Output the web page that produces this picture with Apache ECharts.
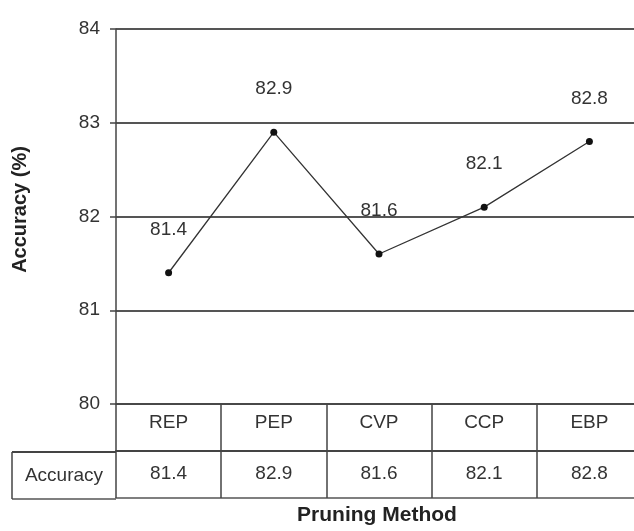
<!DOCTYPE html>
<html>
<head>
<meta charset="utf-8">
<script src="https://cdn.jsdelivr.net/npm/echarts@6/dist/echarts.min.js"></script>
<style>
html,body{margin:0;padding:0;background:#fff;overflow:hidden;width:634px;height:531px;}
#c{width:660px;height:531px;}
</style>
</head>
<body>
<div id="c"></div>
<script>
// ---- data ----
var categories = ['REP', 'PEP', 'CVP', 'CCP', 'EBP'];
var accuracy = [81.4, 82.9, 81.6, 82.1, 82.8];
var yTicks = [80, 81, 82, 83, 84];
var rowLabel = 'Accuracy';
var xTitle = 'Pruning Method';
var yTitle = 'Accuracy (%)';

// ---- layout ----
var H = 531;
var gridLeft = 116, gridTop = 29, gridBottomY = 405, gridWidth = 526;
var rowH = 47;
var tableLeft = 12;
var font = 'Liberation Sans, Arial, Helvetica, sans-serif';

var chart = echarts.init(document.getElementById('c'), null, {renderer: 'canvas'});

var valueLabels = accuracy.map(function (v) { return v.toFixed(1); });

chart.setOption({
  backgroundColor: '#fff',
  animation: false,
  textStyle: {fontFamily: font},
  grid: {left: gridLeft, top: gridTop, width: gridWidth, height: gridBottomY - gridTop, containLabel: false},
  xAxis: [
    {
      type: 'category', data: categories, position: 'bottom', boundaryGap: true,
      axisLine: {show: true, lineStyle: {color: '#444', width: 1.5}},
      axisTick: {show: true, length: rowH * 2, inside: false, lineStyle: {color: '#444', width: 1.5}},
      axisLabel: {margin: 9, fontSize: 19, color: '#333', fontFamily: font},
      name: xTitle, nameLocation: 'middle', nameGap: 101,
      nameTextStyle: {fontSize: 21, fontWeight: 'bold', color: '#222', fontFamily: font, padding: [0, 4, 0, 0]}
    },
    {
      type: 'category', data: valueLabels, position: 'bottom', offset: rowH, boundaryGap: true,
      axisLine: {show: true, lineStyle: {color: '#444', width: 2}},
      axisTick: {show: false},
      axisLabel: {margin: 13, fontSize: 19, color: '#333', fontFamily: font}
    },
    {
      type: 'category', data: categories, position: 'bottom', offset: rowH * 2, boundaryGap: true,
      axisLine: {show: true, lineStyle: {color: '#555', width: 1.5}},
      axisTick: {show: false},
      axisLabel: {show: false}
    }
  ],
  yAxis: {
    type: 'value', min: yTicks[0], max: yTicks[yTicks.length - 1], interval: 1,
    axisLine: {show: true, lineStyle: {color: '#444', width: 1.5}},
    axisTick: {show: true, length: 6, lineStyle: {color: '#444', width: 1.5}},
    axisLabel: {margin: 16, fontSize: 19, color: '#333', fontFamily: font},
    splitLine: {show: true, lineStyle: {color: '#555', width: 2}},
    name: yTitle, nameLocation: 'middle', nameGap: 86, nameRotate: 90,
    nameTextStyle: {fontSize: 20, fontWeight: 'bold', color: '#222', fontFamily: font, padding: [0, 0, 0, 14]}
  },
  series: [{
    type: 'line', data: accuracy, xAxisIndex: 0, yAxisIndex: 0,
    symbol: 'circle', symbolSize: 7,
    lineStyle: {color: '#333', width: 1.3},
    itemStyle: {color: '#111'},
    label: {show: true, position: 'top', distance: 30, fontSize: 19, color: '#333', fontFamily: font,
      formatter: function (p) { return p.value.toFixed(1); }}
  }],
  graphic: [
    {type: 'line', shape: {x1: tableLeft, y1: gridBottomY + rowH, x2: gridLeft, y2: gridBottomY + rowH},
      style: {stroke: '#444', lineWidth: 2}},
    {type: 'line', shape: {x1: tableLeft, y1: gridBottomY + rowH * 2, x2: gridLeft, y2: gridBottomY + rowH * 2},
      style: {stroke: '#555', lineWidth: 1.5}},
    {type: 'line', shape: {x1: tableLeft, y1: gridBottomY + rowH, x2: tableLeft, y2: gridBottomY + rowH * 2},
      style: {stroke: '#444', lineWidth: 1.5}},
    {type: 'text', x: (tableLeft + gridLeft) / 2, y: gridBottomY + rowH * 1.5,
      style: {text: rowLabel, font: '19px ' + font, fill: '#333', textAlign: 'center', textVerticalAlign: 'middle'}}
  ]
});
</script>
</body>
</html>
